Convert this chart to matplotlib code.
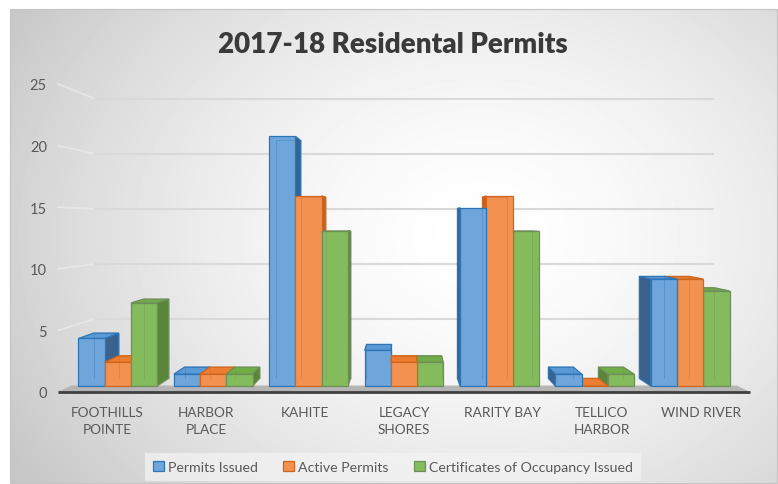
import numpy as np
import matplotlib
matplotlib.use("Agg")
import matplotlib.pyplot as plt
from matplotlib.patches import Polygon, Patch, Rectangle

plt.rcParams['font.family'] = ['Lato', 'DejaVu Sans']

# chart data
categories = ["FOOTHILLS\nPOINTE", "HARBOR\nPLACE", "KAHITE", "LEGACY\nSHORES",
              "RARITY BAY", "TELLICO\nHARBOR", "WIND RIVER"]
series_names = ["Permits Issued", "Active Permits", "Certificates of Occupancy Issued"]
permits_issued = [4, 1, 21, 3, 15, 1, 9]
active_permits = [2, 1, 16, 2, 16, 0, 9]
certificates = [7, 1, 13, 2, 13, 1, 8]
y_ticks = [0, 5, 10, 15, 20, 25]

# (front, side, top, edge) colours per series
styles = [
    ("#6ea6dc", "#3a628c", "#5b9bd5", "#2e75b6"),
    ("#f39250", "#c0622a", "#ed7d31", "#d0661e"),
    ("#84bb5c", "#5a863c", "#70ad47", "#6f8f5a"),
]

# perspective: vanishing point in front-plane data coords, depth shrink
VPX, VPY = 3.0, 13.8
SHRINK = 0.106
Z_FRONT, Z_BACK = 0.33, 0.755
BAR_W = 0.275


def proj(x, y, z):
    s = 1 - SHRINK * z
    return (VPX + (x - VPX) * s, VPY + (y - VPY) * s)


W, H = 778, 485
fig = plt.figure(figsize=(W / 100, H / 100), dpi=100)

# background with radial gradient
bg = fig.add_axes([0, 0, 1, 1])
bg.set_xlim(0, W)
bg.set_ylim(H, 0)
bg.axis("off")
gx, gy = np.meshgrid(np.arange(10, 777), np.arange(10, 484))
r = np.sqrt(((gx - 480) / 420.0) ** 2 + ((gy - 235) / 330.0) ** 2)
shade = 1 - 0.22 * (np.clip(r, 0, 1.3) / 1.3) ** 1.6
bg.imshow(shade, cmap="gray", vmin=0, vmax=1, extent=(10, 777, 484, 10),
          interpolation="bilinear", aspect="auto")
bg.add_patch(Rectangle((10, 10), 767, 474, fill=False, edgecolor="#c4c4c4", lw=0.8))

ax = fig.add_axes([58 / W, 1 - 393 / H, 692 / W, 308 / H])
ax.set_xlim(-0.5, 6.5)
ax.set_ylim(0, 25)
ax.patch.set_visible(False)
for sp in ax.spines.values():
    sp.set_visible(False)

# back wall + left wall gridlines
for v in y_ticks[1:]:
    a = proj(-0.5, v, 0)
    b = proj(-0.5, v, 1)
    c = proj(6.5, v, 1)
    ax.plot([a[0], b[0]], [a[1], b[1]], color="#e6e6e6", lw=1.3, clip_on=False, zorder=1)
    ax.plot([b[0], c[0]], [b[1], c[1]], color="#d9d9d9", lw=1.5, clip_on=False, zorder=1)

# floor
floor = [proj(-0.5, 0, 0), proj(6.5, 0, 0), proj(6.5, 0, 0.36), proj(-0.5, 0, 0.36)]
ax.add_patch(Polygon(floor, closed=True, facecolor="#b5b5b5", edgecolor="none",
                     clip_on=False, zorder=2))
ax.plot([-0.5, 6.5], [0, 0], color="#3f3f3f", lw=2, clip_on=False, zorder=3,
        solid_capstyle="butt")

# build 3D bars
values = [permits_issued, active_permits, certificates]
bars = []
for si, vals in enumerate(values):
    for ci, h in enumerate(vals):
        x0 = ci + (si - 1) * BAR_W - BAR_W / 2
        bars.append((x0, x0 + BAR_W, h, si))
bars.sort(key=lambda b: -abs((b[0] + b[1]) / 2 - VPX))

for k, (x0, x1, h, si) in enumerate(bars):
    front, side, top, edge = styles[si]
    zo = 5 + k * 0.01
    kw = dict(closed=True, clip_on=False, zorder=zo, lw=0.9, edgecolor=edge)
    if x1 < VPX:
        face = [proj(x1, 0, Z_FRONT), proj(x1, h, Z_FRONT), proj(x1, h, Z_BACK), proj(x1, 0, Z_BACK)]
        ax.add_patch(Polygon(face, facecolor=side, **kw))
    elif x0 > VPX:
        face = [proj(x0, 0, Z_FRONT), proj(x0, h, Z_FRONT), proj(x0, h, Z_BACK), proj(x0, 0, Z_BACK)]
        ax.add_patch(Polygon(face, facecolor=side, **kw))
    if h < VPY:
        face = [proj(x0, h, Z_FRONT), proj(x1, h, Z_FRONT), proj(x1, h, Z_BACK), proj(x0, h, Z_BACK)]
        ax.add_patch(Polygon(face, facecolor=top, **kw))
    face = [proj(x0, 0, Z_FRONT), proj(x1, 0, Z_FRONT), proj(x1, h, Z_FRONT), proj(x0, h, Z_FRONT)]
    ax.add_patch(Polygon(face, facecolor=front, **kw))
    # faint hidden back edges seen through the translucent face
    back = [proj(x0, 0, Z_BACK), proj(x0, h, Z_BACK), proj(x1, h, Z_BACK), proj(x1, 0, Z_BACK)]
    bx, by = zip(*back)
    ax.plot(bx, by, color=edge, lw=0.7, alpha=0.35, clip_on=False, zorder=zo + 0.001)

# axes labels
ax.set_yticks(y_ticks)
ax.set_yticklabels([str(v) for v in y_ticks])
ax.set_xticks(range(len(categories)))
ax.set_xticklabels(categories, linespacing=1.5)
ax.tick_params(axis="y", length=0, pad=8, labelsize=10.5, labelcolor="#595959")
ax.tick_params(axis="x", length=0, pad=10, labelsize=9.8, labelcolor="#595959")
for lbl in ax.get_xticklabels():
    lbl.set_verticalalignment("top")

fig.text(393 / W, 1 - 45 / H, "2017-18 Residental Permits", ha="center", va="center",
         fontsize=20, fontweight="heavy", color="#3a3a3a")

handles = [Patch(facecolor=s[0], edgecolor=s[3], lw=0.9) for s in styles]
leg = fig.legend(handles, series_names, loc="center", bbox_to_anchor=(393 / W, 1 - 468 / H),
                 ncol=3, frameon=True, fancybox=False, facecolor="#f4f4f4", edgecolor="none",
                 framealpha=0.7, fontsize=10.2, handlelength=0.75, handleheight=0.75,
                 handletextpad=0.3, columnspacing=1.8, borderpad=0.55)
for t in leg.get_texts():
    t.set_color("#595959")

fig.savefig("out.png", dpi=100)
